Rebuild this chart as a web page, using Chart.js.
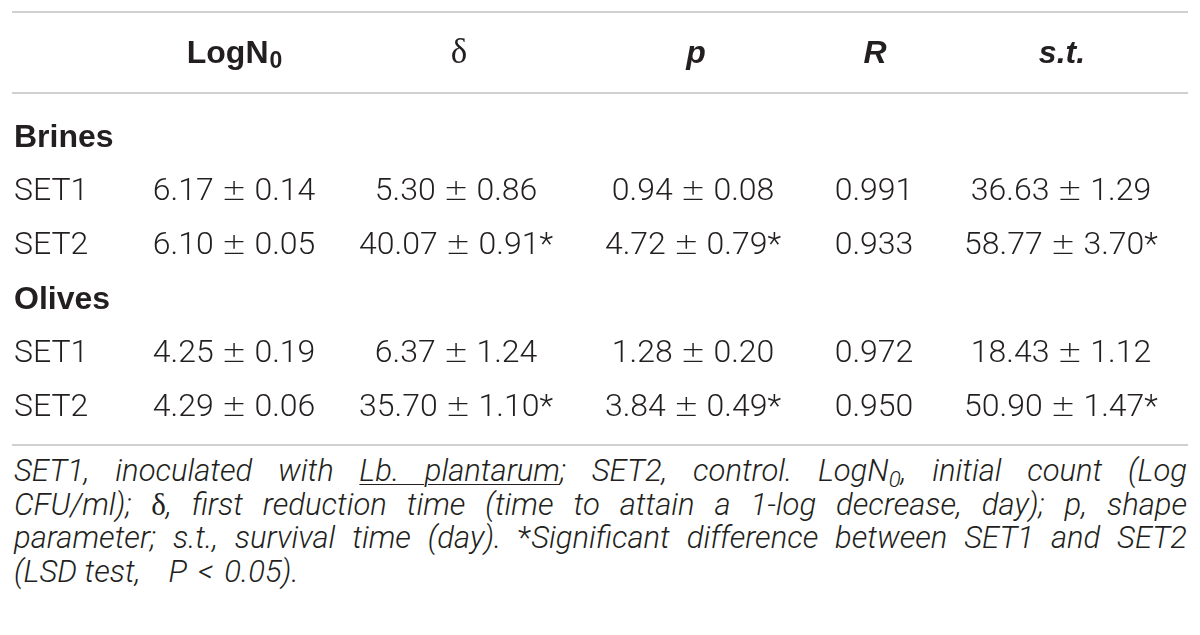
<!DOCTYPE html>
<html><head><meta charset="utf-8">
<script src="https://cdn.jsdelivr.net/npm/chart.js@4.4.1/dist/chart.umd.min.js"></script>
<style>
html,body{margin:0;padding:0;background:#fff;}
#wrap{position:relative;width:1200px;height:635px;overflow:hidden;background:#fff;}
canvas{position:absolute;left:0;top:0;}
#note{position:absolute;left:14px;top:454px;width:1173px;font-family:Roboto,'Liberation Sans',sans-serif;font-style:italic;font-weight:300;font-size:31px;line-height:33.5px;color:#231f20;}
#note .l{text-align:justify;text-align-last:justify;white-space:nowrap;}
#note .last{text-align:left;text-align-last:left;}
#note u{text-decoration-thickness:1px;text-underline-offset:3px;}
#note sub{font-size:0.72em;vertical-align:-0.25em;line-height:0;}
.g{font-family:'Liberation Serif','DejaVu Serif',serif;font-style:normal;font-weight:400;}
.n{font-style:normal;}
.sp{display:inline-block;}
</style></head><body>
<div id="wrap">
<canvas id="c" width="1200" height="450"></canvas>
<div id="note">
<div class="l">SET1, inoculated with <u>Lb. plantarum</u>; SET2, control. LogN<sub>0</sub>, initial count (Log</div>
<div class="l">CFU/ml); <span class="g">δ</span>, first reduction time (time to attain a 1-log decrease, day); p, shape</div>
<div class="l">parameter; s.t., survival time (day). <span class="n">*</span>Significant difference between SET1 and SET2</div>
<div class="l last">(LSD test,<span class="sp" style="width:28px"></span>P<span class="sp" style="width:11px"></span>&lt;<span class="sp" style="width:11px"></span>0.05).</div>
</div>
</div>
<script>
// ---- data ----
const columnHeaders = ['', 'LogN', 'δ', 'p', 'R', 's.t.'];
const groups = ['Brines', 'Olives'];
const setNames = ['SET1', 'SET2', 'SET1', 'SET2'];
const logN0Mean = [6.17, 6.10, 4.25, 4.29];
const logN0SD   = [0.14, 0.05, 0.19, 0.06];
const deltaMean = [5.30, 40.07, 6.37, 35.70];
const deltaSD   = [0.86, 0.91, 1.24, 1.10];
const deltaSig  = [false, true, false, true];
const pMean     = [0.94, 4.72, 1.28, 3.84];
const pSD       = [0.08, 0.79, 0.20, 0.49];
const pSig      = [false, true, false, true];
const Rvals     = [0.991, 0.933, 0.972, 0.950];
const stMean    = [36.63, 58.77, 18.43, 50.90];
const stSD      = [1.29, 3.70, 1.12, 1.47];
const stSig     = [false, true, false, true];

// ---- layout (positions / styles) ----
const colPos = [0.0017, 0.1888, 0.3776, 0.5791, 0.7330, 0.8920];
const yMin = -2.333, yMax = 5.685;
const headerRow = -1.556;
const groupRows = [0, 3];
const dataRows = [1, 2, 4, 5];
const ruleRows = [yMin, -0.833, yMax];
const INK = '#231f20';
const bodyFont = '300 32px Roboto, "Liberation Sans", sans-serif';
const pmFont = '200 30px "DejaVu Sans", sans-serif';
const boldFont = 'bold 32px "Liberation Sans", Arial, sans-serif';

// a cell is a list of text runs
const plain = t => [{t, f: bodyFont}];
const pmCell = (m, s, sig) => [
  {t: m.toFixed(2) + ' ', f: bodyFont},
  {t: '±', f: pmFont},
  {t: ' ' + s.toFixed(2) + (sig ? '*' : ''), f: bodyFont}
];

const cellTexts = [
  setNames.map(plain),
  logN0Mean.map((m, i) => pmCell(m, logN0SD[i], false)),
  deltaMean.map((m, i) => pmCell(m, deltaSD[i], deltaSig[i])),
  pMean.map((m, i) => pmCell(m, pSD[i], pSig[i])),
  Rvals.map(v => plain(v.toFixed(3))),
  stMean.map((m, i) => pmCell(m, stSD[i], stSig[i]))
];

const datasets = [];
cellTexts.forEach((col, c) => {
  datasets.push({
    kind: 'cell', texts: col, align: c === 0 ? 'left' : 'center',
    data: col.map((_, i) => ({x: colPos[c], y: dataRows[i]}))
  });
});
datasets.push({
  kind: 'cell', texts: groups.map(g => [{t: g, f: boldFont}]), align: 'left',
  data: groups.map((_, i) => ({x: colPos[0], y: groupRows[i]}))
});
datasets.push({
  kind: 'header', texts: columnHeaders,
  data: columnHeaders.map((_, c) => ({x: colPos[c], y: headerRow}))
});

const headerStyles = [
  null,
  {font: 'bold 32px "Liberation Sans", Arial, sans-serif', sub: '0'},
  {font: '35px "Liberation Serif", "DejaVu Serif", serif', dx: 3},
  {font: 'italic bold 32px "Liberation Sans", Arial, sans-serif', dx: 3},
  {font: 'italic bold 32px "Liberation Sans", Arial, sans-serif', dx: 1},
  {font: 'italic bold 32px "Liberation Sans", Arial, sans-serif', dx: 1}
];

function drawRuns(ctx, runs, x, y, align) {
  let total = 0;
  const ws = runs.map(r => { ctx.font = r.f; const w = ctx.measureText(r.t).width; total += w; return w; });
  let cx = align === 'center' ? x - total / 2 : x;
  ctx.textAlign = 'left';
  runs.forEach((r, k) => { ctx.font = r.f; ctx.fillText(r.t, cx, y); cx += ws[k]; });
}

const tablePlugin = {
  id: 'tableText',
  beforeDatasetsDraw(chart) {
    const {ctx, chartArea, scales} = chart;
    ctx.save();
    ctx.strokeStyle = '#d0d0d0';
    ctx.lineWidth = 2;
    ruleRows.forEach(r => {
      const y = Math.round(scales.y.getPixelForValue(r));
      ctx.beginPath();
      ctx.moveTo(chartArea.left, y);
      ctx.lineTo(chartArea.right, y);
      ctx.stroke();
    });
    ctx.restore();
  },
  afterDatasetsDraw(chart) {
    const ctx = chart.ctx;
    ctx.save();
    ctx.fillStyle = INK;
    ctx.textBaseline = 'middle';
    chart.data.datasets.forEach((ds, di) => {
      const meta = chart.getDatasetMeta(di);
      meta.data.forEach((pt, j) => {
        const t = ds.texts[j];
        if (!t) return;
        if (ds.kind === 'header') {
          const st = headerStyles[j];
          ctx.font = st.font;
          if (st.sub) {
            const w1 = ctx.measureText(t).width;
            ctx.font = 'bold 23px "Liberation Sans", Arial, sans-serif';
            const w2 = ctx.measureText(st.sub).width;
            const x0 = pt.x - (w1 + w2) / 2;
            ctx.textAlign = 'left';
            ctx.fillText(st.sub, x0 + w1 + 1, pt.y + 8);
            ctx.font = st.font;
            ctx.fillText(t, x0, pt.y);
          } else {
            ctx.textAlign = 'center';
            ctx.fillText(t, pt.x + (st.dx || 0), pt.y);
          }
        } else {
          drawRuns(ctx, t, pt.x, pt.y, ds.align);
        }
      });
    });
    ctx.restore();
  }
};

new Chart(document.getElementById('c'), {
  type: 'scatter',
  data: {datasets},
  options: {
    responsive: false,
    animation: false,
    devicePixelRatio: 1,
    layout: {padding: {left: 12, right: 12, top: 12, bottom: 5}},
    elements: {point: {radius: 0, hoverRadius: 0}},
    plugins: {legend: {display: false}, tooltip: {enabled: false}},
    events: [],
    scales: {
      x: {type: 'linear', min: 0, max: 1, display: false},
      y: {type: 'linear', min: yMin, max: yMax, reverse: true, display: false}
    }
  },
  plugins: [tablePlugin]
});
</script>
</body></html>
